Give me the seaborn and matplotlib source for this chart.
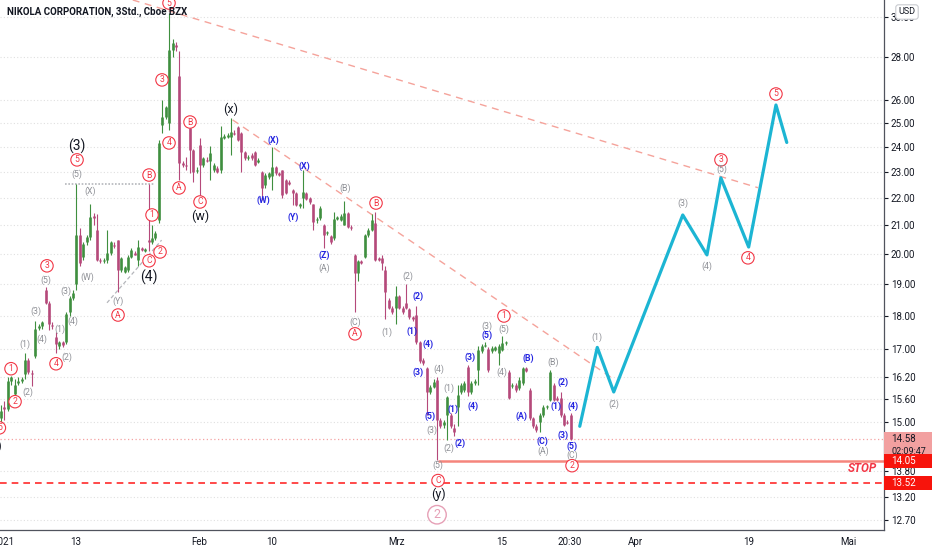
import numpy as np
import pandas as pd
import seaborn as sns
import matplotlib.pyplot as plt
import matplotlib.transforms as mtransforms
from matplotlib.patches import Rectangle

# 3h candles, NKLA, Jan - Mar 2021
open_ = [15.10, 15.40, 15.35, 16.10, 15.75, 16.05, 16.10, 16.30, 16.70, 16.32,
         16.80, 17.62, 17.68, 18.80, 18.40, 17.72, 17.35, 17.10, 17.20, 17.20,
         18.10, 18.55, 19.00, 20.66, 19.90, 20.40, 20.58, 21.35, 20.84, 19.80,
         19.75, 19.80, 20.05, 20.32, 20.48, 19.46, 19.40, 19.46, 19.90, 20.05,
         19.80, 20.20, 20.12, 20.48, 20.41, 20.55, 21.20, 24.94, 25.28, 25.00,
         28.35, 28.60, 27.10, 23.35, 23.30, 24.80, 23.90, 23.05, 24.10, 23.29,
         23.50, 23.45, 23.10, 23.17, 23.09, 24.40, 24.43, 24.43, 24.60, 24.85,
         24.60, 23.80, 23.55, 23.70, 23.80, 23.41, 23.00, 22.50, 22.80, 22.85,
         23.20, 22.95, 23.09, 22.70, 22.60, 22.30, 22.20, 21.70, 22.00, 22.20,
         22.00, 21.78, 21.20, 21.27, 21.00, 20.72, 20.62, 20.55, 21.25, 21.20,
         21.02, 21.45, 20.95, 19.97, 19.37, 19.75, 19.90, 20.66, 20.84, 21.10,
         19.85, 19.85, 19.46, 18.49, 18.25, 18.25, 18.60, 18.25, 18.40, 18.20,
         17.95, 18.02, 17.20, 16.69, 16.45, 15.80, 15.93, 16.13, 15.05, 14.92,
         15.19, 15.19, 14.86, 15.40, 15.80, 15.86, 16.50, 15.80, 16.05, 16.41,
         16.95, 17.10, 17.00, 16.95, 16.98, 16.90, 16.98, 17.18, 16.35, 15.96,
         15.99, 15.90, 16.05, 16.46, 15.86, 15.10, 14.90, 15.00, 15.19, 15.40,
         15.59, 15.99, 15.65, 15.65, 15.19, 15.00, 15.19]
high = [15.45, 15.55, 16.20, 16.25, 16.15, 16.20, 16.20, 16.90, 16.75, 16.40,
        17.85, 17.75, 17.85, 18.90, 18.45, 17.80, 17.50, 17.25, 17.25, 18.10,
        18.60, 18.80, 22.55, 20.90, 20.40, 20.65, 21.80, 21.45, 21.40, 19.85,
        19.85, 20.85, 20.45, 20.40, 20.50, 19.90, 19.60, 19.95, 20.20, 20.10,
        20.48, 20.25, 20.22, 22.56, 21.00, 20.80, 24.30, 26.00, 25.75, 30.20,
        28.90, 28.75, 28.30, 23.45, 23.60, 24.85, 23.95, 23.20, 24.40, 23.60,
        23.60, 24.05, 23.35, 23.25, 24.90, 24.55, 24.60, 25.25, 24.70, 24.90,
        24.65, 23.85, 23.70, 23.75, 23.85, 23.55, 23.05, 22.95, 23.00, 24.00,
        23.25, 23.00, 23.10, 22.75, 22.70, 22.35, 22.25, 21.82, 23.10, 22.25,
        22.05, 21.80, 21.30, 21.70, 21.05, 20.80, 20.65, 21.50, 21.35, 21.40,
        21.90, 21.50, 21.00, 20.00, 19.80, 19.80, 20.70, 20.90, 21.40, 21.50,
        19.90, 19.95, 19.60, 18.55, 18.30, 18.95, 18.65, 18.30, 19.00, 18.25,
        18.00, 18.30, 17.25, 16.75, 16.50, 16.00, 16.15, 16.20, 15.10, 15.05,
        15.70, 15.25, 14.95, 16.00, 16.05, 16.10, 16.55, 16.10, 16.15, 17.10,
        17.15, 17.20, 17.05, 17.08, 17.10, 17.15, 17.40, 17.25, 16.40, 16.05,
        16.05, 16.20, 16.50, 16.50, 15.90, 15.15, 14.95, 15.25, 15.45, 15.45,
        16.40, 16.05, 15.70, 15.80, 15.25, 15.05, 15.25]
low = [14.95, 15.05, 15.30, 16.00, 15.70, 16.00, 16.05, 16.15, 16.30, 15.95,
       16.75, 17.55, 17.60, 18.35, 17.55, 17.60, 16.90, 17.00, 17.05, 17.15,
       18.00, 18.50, 18.80, 19.60, 19.80, 20.30, 20.50, 21.00, 19.75, 19.70,
       19.70, 19.70, 19.95, 20.20, 18.75, 19.40, 19.35, 19.40, 19.85, 19.95,
       19.60, 20.10, 20.08, 20.10, 20.35, 20.50, 21.10, 24.60, 25.20, 24.72,
       28.00, 28.30, 22.70, 23.20, 23.10, 22.95, 22.60, 22.95, 21.95, 23.20,
       23.40, 22.70, 23.00, 22.95, 22.95, 24.35, 24.40, 23.70, 24.50, 24.25,
       23.00, 23.50, 23.50, 23.50, 23.25, 23.35, 21.95, 22.40, 22.75, 22.30,
       22.90, 22.85, 22.00, 22.15, 22.50, 21.75, 21.70, 21.65, 21.65, 21.95,
       21.80, 20.84, 21.10, 21.20, 20.20, 20.65, 20.35, 20.50, 21.20, 21.15,
       21.00, 20.90, 20.85, 18.10, 19.10, 19.65, 19.85, 20.60, 20.80, 19.75,
       19.75, 19.45, 17.90, 18.20, 18.05, 17.75, 18.20, 18.05, 18.20, 17.90,
       17.85, 17.15, 16.60, 16.55, 15.20, 15.75, 15.90, 14.07, 14.85, 14.85,
       14.56, 14.85, 14.65, 14.90, 15.75, 15.80, 15.70, 15.75, 16.00, 16.00,
       16.90, 17.05, 16.35, 16.90, 16.95, 16.55, 16.95, 17.12, 15.60, 15.90,
       15.80, 15.85, 16.00, 16.35, 15.05, 14.85, 14.75, 14.75, 15.15, 15.35,
       15.55, 15.55, 15.55, 15.15, 14.90, 14.95, 14.55]
close = [15.30, 15.35, 16.10, 16.20, 16.00, 16.10, 16.15, 16.70, 16.35, 16.28,
         17.60, 17.70, 17.80, 18.40, 17.75, 17.68, 17.15, 17.20, 17.12, 18.05,
         18.55, 18.70, 20.66, 19.70, 20.35, 20.58, 21.30, 21.28, 19.80, 19.75,
         19.78, 20.05, 20.40, 20.27, 19.46, 19.87, 19.56, 19.90, 20.14, 19.98,
         20.24, 20.15, 20.17, 20.40, 20.55, 20.73, 24.18, 25.28, 25.70, 28.35,
         28.70, 28.50, 23.35, 23.30, 23.25, 23.90, 23.00, 23.10, 23.29, 23.55,
         23.45, 23.77, 23.29, 23.00, 24.43, 24.45, 24.51, 24.63, 24.55, 24.30,
         23.80, 23.55, 23.60, 23.55, 23.30, 23.49, 22.40, 22.90, 22.95, 23.20,
         22.95, 22.90, 22.12, 22.20, 22.55, 22.20, 21.75, 21.78, 22.25, 21.98,
         21.85, 21.12, 21.25, 21.64, 20.66, 20.76, 20.40, 21.25, 21.30, 21.35,
         21.45, 20.95, 20.90, 19.37, 19.75, 19.70, 20.66, 20.84, 21.20, 19.80,
         19.80, 19.70, 18.75, 18.25, 18.10, 18.60, 18.25, 18.12, 18.25, 17.95,
         17.90, 17.20, 16.65, 16.60, 15.80, 15.93, 16.08, 15.06, 14.90, 15.00,
         15.67, 14.90, 14.75, 15.72, 15.99, 16.04, 15.80, 16.04, 16.10, 16.98,
         17.10, 17.12, 16.40, 17.03, 17.05, 17.10, 17.18, 17.20, 15.63, 16.00,
         15.86, 16.13, 16.46, 16.38, 15.10, 14.90, 14.80, 15.19, 15.40, 15.42,
         16.36, 15.59, 15.59, 15.19, 14.94, 14.98, 14.58]

# x axis is counted in trading days from 4 Jan 2021, three candles per day
first_day = -0.3
candles_per_day = 3

# projected wave path (cyan)
proj_day = [55.9, 57.6, 59.2, 65.9, 68.25, 69.6, 72.3, 74.95, 76.0]
proj_price = [14.90, 17.05, 15.80, 21.38, 19.97, 22.78, 20.24, 25.80, 24.20]

# trend lines
upper_day = [12.5, 73.2]
upper_price = [30.87, 22.40]
lower_day = [22.2, 59.3]
lower_price = [25.15, 16.13]
wedge_day = [10.0, 15.3]
wedge_price = [18.40, 20.48]
top3_day = [5.9, 14.7]
top3_price = [22.56, 22.56]

last_price = 14.58
stop_price = 14.05
stop_from_day = 42.1
low_target = 13.52

tick_day = [0, 7, 19, 26, 38.15, 48.35, 54.95, 61.35, 72.3, 82.0]
tick_text = ["2021", "13", "Feb", "10", "Mrz", "15", "20:30", "Apr", "19", "Mai"]
price_ticks = [12.70, 13.20, 13.80, 15.00, 15.60, 16.20, 17.00, 18.00, 19.00,
               20.00, 21.00, 22.00, 23.00, 24.00, 25.00, 26.00, 28.00, 30.00]

# wave labels: (day, price, text)
red_labels = [(7.09, 23.49, "5"), (16.02, 30.71, "5"), (15.34, 26.93, "3"),
              (16.02, 24.18, "4"), (18.06, 25.06, "B"), (16.99, 22.39, "A"),
              (19.03, 21.86, "C"), (14.08, 22.89, "B"), (14.37, 21.38, "1"),
              (15.15, 20.07, "2"), (14.08, 19.77, "C"), (11.07, 18.02, "A"),
              (4.17, 19.60, "3"), (5.05, 16.58, "4"), (0.68, 16.44, "1"),
              (1.07, 15.54, "2"), (-0.45, 14.86, "5"), (34.08, 17.45, "A"),
              (36.12, 21.82, "B"), (48.54, 17.99, "1"), (42.14, 13.58, "C"),
              (55.15, 13.93, "2"), (69.61, 23.49, "3"), (72.23, 19.87, "4"),
              (74.95, 26.29, "5")]
gray_labels = [(7.09, 22.93, "(5)"), (8.35, 22.27, "(X)"), (8.06, 19.23, "(W)"),
               (11.07, 18.46, "(Y)"), (4.08, 19.13, "(5)"), (3.11, 18.15, "(3)"),
               (3.69, 17.30, "(4)"), (2.04, 17.15, "(1)"), (2.33, 15.78, "(2)"),
               (6.02, 18.78, "(3)"), (6.70, 17.84, "(4)"), (5.44, 17.60, "(1)"),
               (6.12, 16.77, "(2)"), (33.11, 22.39, "(B)"), (31.07, 19.53, "(A)"),
               (34.08, 17.81, "(C)"), (39.22, 19.26, "(2)"), (37.18, 17.51, "(1)"),
               (42.23, 16.44, "(4)"), (41.55, 14.79, "(3)"), (43.20, 15.89, "(1)"),
               (43.20, 14.34, "(2)"), (42.14, 13.93, "(5)"), (46.89, 17.69, "(3)"),
               (48.54, 17.60, "(5)"), (48.35, 16.35, "(4)"), (53.30, 16.63, "(B)"),
               (52.33, 14.29, "(A)"), (55.15, 14.17, "(C)"), (57.57, 17.36, "(1)"),
               (59.22, 15.48, "(2)"), (65.92, 21.82, "(3)"), (68.25, 19.60, "(4)"),
               (69.71, 23.13, "(5)")]
blue_labels = [(26.12, 24.31, "(X)"), (25.15, 21.93, "(W)"), (28.06, 21.31, "(Y)"),
               (29.13, 23.25, "(X)"), (31.07, 19.94, "(Z)"), (40.19, 18.62, "(2)"),
               (39.61, 17.54, "(1)"), (41.17, 17.15, "(4)"), (40.19, 16.33, "(3)"),
               (41.36, 15.16, "(5)"), (43.59, 15.35, "(1)"), (44.27, 14.48, "(2)"),
               (45.24, 16.77, "(3)"), (45.53, 15.43, "(4)"), (46.89, 17.42, "(5)"),
               (50.87, 16.74, "(B)"), (54.27, 16.07, "(2)"), (50.29, 15.16, "(A)"),
               (53.59, 15.41, "(1)"), (55.24, 15.41, "(4)"), (54.27, 14.66, "(3)"),
               (52.23, 14.51, "(C)"), (55.15, 14.39, "(5)")]
black_labels = [(7.09, 24.06, "(3)", 10), (14.08, 19.23, "(4)", 10),
                (22.04, 25.62, "(x)", 9), (19.03, 21.34, "(w)", 9),
                (42.14, 13.27, "(y)", 9), (-1.0, 14.39, "(2)", 9)]

sns.set_theme(style="white")
plt.rcParams["font.family"] = ["Roboto", "DejaVu Sans"]

GREEN = "#3f8f3f"
PINK = "#b5497a"
RED = "#f23645"
GRAY = "#8e9096"
BLUE = "#2424e0"
AXIS = "#131722"

df = pd.DataFrame({"open": open_, "high": high, "low": low, "close": close})
df["day"] = first_day + np.arange(len(df)) / candles_per_day
df["color"] = np.where(df["close"] >= df["open"], GREEN, PINK)

fig = plt.figure(figsize=(9.32, 5.5), dpi=100)
ax = fig.add_axes([0, 20 / 550, 884 / 932, 530 / 550])
ax.set_yscale("log")
ax.set_xlim(-0.39, 85.44)
ax.set_ylim(12.48, 30.87)

ax.vlines(df["day"], df["low"], df["high"], colors=df["color"], lw=0.8, zorder=3)
ax.vlines(df["day"], df["open"], df["close"], colors=df["color"], lw=1.9, zorder=3)

sns.lineplot(x=proj_day, y=proj_price, ax=ax, color="#1cb5d3", lw=2.3, sort=False,
             zorder=4)

ax.plot(upper_day, upper_price, color="#f5a39b", lw=1.0, ls=(0, (5, 4)), zorder=2)
ax.plot(lower_day, lower_price, color="#f5a39b", lw=1.0, ls=(0, (5, 4)), zorder=2)
ax.plot(wedge_day, wedge_price, color="#b4b6bb", lw=0.9, ls=(0, (3, 2)), zorder=2)
ax.plot(top3_day, top3_price, color="#b4b6bb", lw=1.2, ls=(0, (1, 1)), zorder=2)

ax.axhline(last_price, color="#f4a3a3", lw=0.9, ls=(0, (1, 2)), zorder=1)
ax.axhline(low_target, color="#ff2a2a", lw=1.2, ls=(0, (4, 3)), zorder=2)
ax.hlines(stop_price, stop_from_day, 85.44, color="#f5857c", lw=1.8, zorder=2)
ax.text(0.992, 13.87, "STOP", transform=mtransforms.blended_transform_factory(
    ax.transAxes, ax.transData), ha="right", va="center", color="#f23645",
    fontsize=8.5, fontweight="bold", fontstyle="italic")

for d, p, t in red_labels:
    ax.text(d, p, t, ha="center", va="center", fontsize=6.2, color=RED, zorder=6,
            bbox=dict(boxstyle="circle,pad=0.2", fc="white", ec=RED, lw=0.8))
for d, p, t in gray_labels:
    ax.text(d, p, t, ha="center", va="center", fontsize=6.3, color=GRAY, zorder=6)
for d, p, t in blue_labels:
    ax.text(d, p, t, ha="center", va="center", fontsize=6.3, color=BLUE,
            fontweight="bold", zorder=6)
for d, p, t, fs in black_labels:
    ax.text(d, p, t, ha="center", va="center", fontsize=fs, color=AXIS, zorder=6)
ax.text(42.04, 12.81, "2", ha="center", va="center", fontsize=9, color="#e6a0b6",
        zorder=6, bbox=dict(boxstyle="circle,pad=0.22", fc="white", ec="#e6a0b6", lw=1.0))

# axes
ax.yaxis.tick_right()
ax.set_yticks(price_ticks)
ax.set_yticklabels([f"{v:.2f}" for v in price_ticks])
ax.yaxis.set_minor_locator(plt.NullLocator())
ax.set_xticks(tick_day)
ax.set_xticklabels(tick_text)
ax.tick_params(axis="both", labelsize=7, colors=AXIS, length=3, width=0.8,
               direction="out", pad=2)
ax.grid(axis="y", color="#e0e0e0", ls=(0, (1, 2)), lw=0.8)
ax.grid(axis="x", visible=False)
for s in ["left", "top"]:
    ax.spines[s].set_visible(False)
for s in ["right", "bottom"]:
    ax.spines[s].set_color("#50535e")
    ax.spines[s].set_linewidth(0.9)

# price boxes on the axis
trans = mtransforms.blended_transform_factory(ax.transAxes, ax.transData)
box_w = 48 / 884
ax.add_patch(Rectangle((1.0, last_price / 1.031), box_w,
                       last_price * 1.012 - last_price / 1.031, transform=trans,
                       clip_on=False, fc="#f2a0a0", ec="none", zorder=7))
ax.text(1.008, last_price, "14.58", transform=trans, ha="left", va="center",
        fontsize=7, color=AXIS, zorder=8, clip_on=False)
ax.text(1.008, last_price / 1.021, "02:09:47", transform=trans, ha="left",
        va="center", fontsize=6.5, color=AXIS, zorder=8, clip_on=False)
for val in [stop_price, low_target]:
    ax.add_patch(Rectangle((1.0, val / 1.012), box_w, val * 1.012 - val / 1.012,
                           transform=trans, clip_on=False, fc="#f7140c", ec="none",
                           zorder=7))
    ax.text(1.008, val, f"{val:.2f}", transform=trans, ha="left", va="center",
            fontsize=7, color="white", zorder=8, clip_on=False)

fig.text(7 / 932, 1 - 12 / 550, "NIKOLA CORPORATION, 3Std., Cboe BZX", ha="left",
         va="center", fontsize=7, fontweight="bold", color=AXIS)
fig.text(907 / 932, 1 - 12 / 550, "USD", ha="center", va="center", fontsize=6.5,
         color=AXIS, bbox=dict(boxstyle="round,pad=0.3", fc="white", ec="#c9cbd0",
                               lw=0.8))

fig.savefig("out.png", dpi=100)
